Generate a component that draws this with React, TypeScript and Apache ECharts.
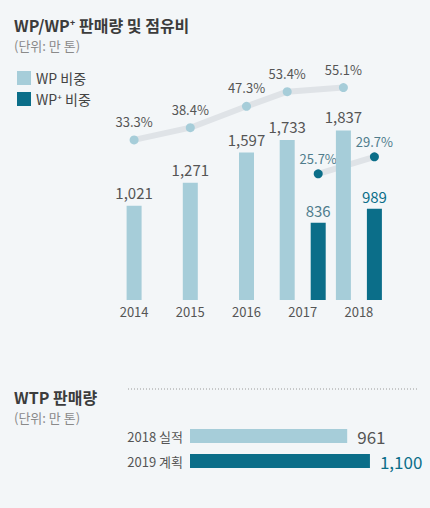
import React, { useEffect, useRef } from "react";
import * as echarts from "echarts";

// ---- data ----
const years = ["2014", "2015", "2016", "2017", "2018"];
const wpSales = [1021, 1271, 1597, 1733, 1837];
const wpPlusSales: (number | null)[] = [null, null, null, 836, 989];
const wpShare = [33.3, 38.4, 47.3, 53.4, 55.1];
const wpPlusShare: (number | null)[] = [null, null, null, 25.7, 29.7];
const wtpCategories = ["2018 실적", "2019 계획"];
const wtpValues = [961, 1100];

const WP_NAME = "WP 비중";
const WPP_NAME = "WP⁺ 비중";

// ---- style ----
const BG = "#f3f6f8";
const LIGHT = "#a6cdd9";
const DARK = "#0b6e89";
const LINE_GRAY = "#dfe3e7";
const TEXT = "#555555";
const TEAL_TEXT = "#4f7c8c";
const NARROW = "'Liberation Sans Narrow', 'Noto Sans CJK KR', sans-serif";
const KR = "'Noto Sans CJK KR', 'Noto Sans', sans-serif";
const BAR_W = 15;
const PAIR_GAP = 16;
const OFFSET = (BAR_W + PAIR_GAP) / 2;

function fmt(v: number) {
  return v.toLocaleString("en-US");
}

function makeLineRenderer(values: (number | null)[], sideOffset: number, dotColor: string, labelColor: string, labelGap: number) {
  return (params: any, api: any) => {
    const i = api.value(0) as number;
    const v = api.value(1) as number;
    const off = (k: number) => (wpPlusSales[k] != null ? sideOffset : 0);
    const p = api.coord([i, v]);
    const x = p[0] + off(i);
    const y = p[1];
    const children: any[] = [];
    let n = i + 1;
    while (n < values.length && values[n] == null) n++;
    if (n < values.length) {
      const q = api.coord([n, values[n]]);
      children.push({
        type: "line",
        z2: 1,
        shape: { x1: x, y1: y, x2: q[0] + off(n), y2: q[1] },
        style: { stroke: LINE_GRAY, lineWidth: 6, lineCap: "round" },
      });
    }
    children.push({
      type: "circle",
      z2: 5,
      shape: { cx: x, cy: y, r: 4.5 },
      style: { fill: dotColor },
    });
    children.push({
      type: "text",
      z2: 6,
      x: x,
      y: y - labelGap,
      style: {
        text: v.toFixed(1) + "%",
        align: "center",
        verticalAlign: "bottom",
        fontSize: 13,
        fontFamily: NARROW,
        fill: labelColor,
      },
    });
    return { type: "group", children };
  };
}

export default function App() {
  const ref = useRef<HTMLDivElement>(null);
  useEffect(() => {
    document.body.style.margin = "0";
    document.body.style.background = BG;
    const chart = echarts.init(ref.current!, null, { renderer: "svg" });
    const lightA = wpSales.map((v, i) => (wpPlusSales[i] == null ? v : "-"));
    const lightB = wpSales.map((v, i) => (wpPlusSales[i] != null ? v : "-"));
    const lastDark = wpPlusSales.length - 1;
    const barLabel = {
      show: true,
      position: "top",
      distance: 6,
      fontSize: 15,
      fontFamily: NARROW,
      color: TEXT,
      formatter: (p: any) => fmt(p.value),
    };
    chart.setOption({
      animation: false,
      backgroundColor: BG,
      title: [
        {
          text: "WP/WP⁺ 판매량 및 점유비",
          subtext: "(단위: 만 톤)",
          left: 9,
          top: 12,
          itemGap: 6,
          textStyle: { fontFamily: KR, fontSize: 16, fontWeight: 600, color: "#3c3c3c" },
          subtextStyle: { fontFamily: KR, fontSize: 13, color: "#8a8a8a" },
        },
        {
          text: "WTP 판매량",
          subtext: "(단위: 만 톤)",
          left: 9,
          top: 384,
          itemGap: 6,
          textStyle: { fontFamily: KR, fontSize: 16, fontWeight: 600, color: "#3c3c3c" },
          subtextStyle: { fontFamily: KR, fontSize: 13, color: "#8a8a8a" },
        },
      ],
      legend: {
        data: [WP_NAME, WPP_NAME],
        orient: "vertical",
        left: 12,
        top: 66,
        itemWidth: 14,
        itemHeight: 14,
        itemGap: 7,
        icon: "rect",
        selectedMode: false,
        textStyle: { fontFamily: KR, fontSize: 14, color: "#444444" },
      },
      graphic: [
        {
          type: "line",
          shape: { x1: 128, y1: 389, x2: 418, y2: 389 },
          style: { stroke: "#9a9a9a", lineWidth: 1, lineDash: [1, 2] },
        },
      ],
      grid: [
        { left: 106, top: 60, width: 281, height: 240 },
        { left: 190, top: 423.5, width: 229, height: 50 },
      ],
      xAxis: [
        {
          type: "category",
          gridIndex: 0,
          data: years,
          axisLine: { show: false },
          axisTick: { show: false },
          axisLabel: { margin: 5, fontSize: 13, fontFamily: NARROW, color: TEXT },
        },
        { type: "category", gridIndex: 0, data: years, show: false },
        { type: "value", gridIndex: 1, min: 0, max: 1400, show: false },
      ],
      yAxis: [
        { type: "value", gridIndex: 0, min: 0, max: 2600, show: false },
        { type: "value", gridIndex: 0, min: -33.4, max: 66.6, show: false },
        { type: "value", gridIndex: 0, min: -4, max: 52.5, show: false },
        {
          type: "category",
          gridIndex: 1,
          data: wtpCategories,
          inverse: true,
          axisLine: { show: false },
          axisTick: { show: false },
          axisLabel: { margin: 7, fontSize: 13, fontFamily: NARROW, color: TEXT },
        },
      ],
      series: [
        {
          type: "custom",
          name: "WP share",
          xAxisIndex: 0,
          yAxisIndex: 1,
          z: 1,
          clip: false,
          data: wpShare.map((v, i) => [i, v]),
          renderItem: makeLineRenderer(wpShare, -OFFSET, LIGHT, TEXT, 12),
        },
        {
          type: "custom",
          name: "WP+ share",
          xAxisIndex: 0,
          yAxisIndex: 2,
          z: 1,
          clip: false,
          data: wpPlusShare.map((v, i) => [i, v]).filter((d) => d[1] != null),
          renderItem: makeLineRenderer(wpPlusShare, OFFSET, DARK, TEAL_TEXT, 9),
        },
        {
          type: "bar",
          name: WP_NAME,
          xAxisIndex: 0,
          yAxisIndex: 0,
          z: 2,
          barWidth: BAR_W,
          itemStyle: { color: LIGHT },
          label: barLabel,
          data: lightA,
        },
        {
          type: "bar",
          name: WP_NAME,
          xAxisIndex: 1,
          yAxisIndex: 0,
          z: 2,
          barWidth: BAR_W,
          barGap: (PAIR_GAP / BAR_W) * 100 + "%",
          itemStyle: { color: LIGHT },
          label: barLabel,
          data: lightB,
        },
        {
          type: "bar",
          name: WPP_NAME,
          xAxisIndex: 1,
          yAxisIndex: 0,
          z: 2,
          barWidth: BAR_W,
          barGap: (PAIR_GAP / BAR_W) * 100 + "%",
          itemStyle: { color: DARK },
          data: wpPlusSales.map((v, i) =>
            v == null
              ? "-"
              : { value: v, label: { color: i === lastDark ? DARK : TEAL_TEXT } }
          ),
          label: { ...barLabel, distance: 5 },
        },
        {
          type: "bar",
          name: "WTP",
          xAxisIndex: 2,
          yAxisIndex: 3,
          barWidth: 14,
          data: wtpValues.map((v, i) => ({
            value: v,
            itemStyle: { color: i === wtpValues.length - 1 ? DARK : LIGHT },
            label: { color: i === wtpValues.length - 1 ? DARK : TEXT },
          })),
          label: {
            show: true,
            position: "right",
            distance: 10,
            fontSize: 17,
            fontFamily: NARROW,
            formatter: (p: any) => fmt(p.value),
          },
        },
      ],
    });
    return () => chart.dispose();
  }, []);
  return (
    <div
      ref={ref}
      style={{ position: "absolute", left: 0, top: 0, width: 430, height: 508 }}
    />
  );
}
